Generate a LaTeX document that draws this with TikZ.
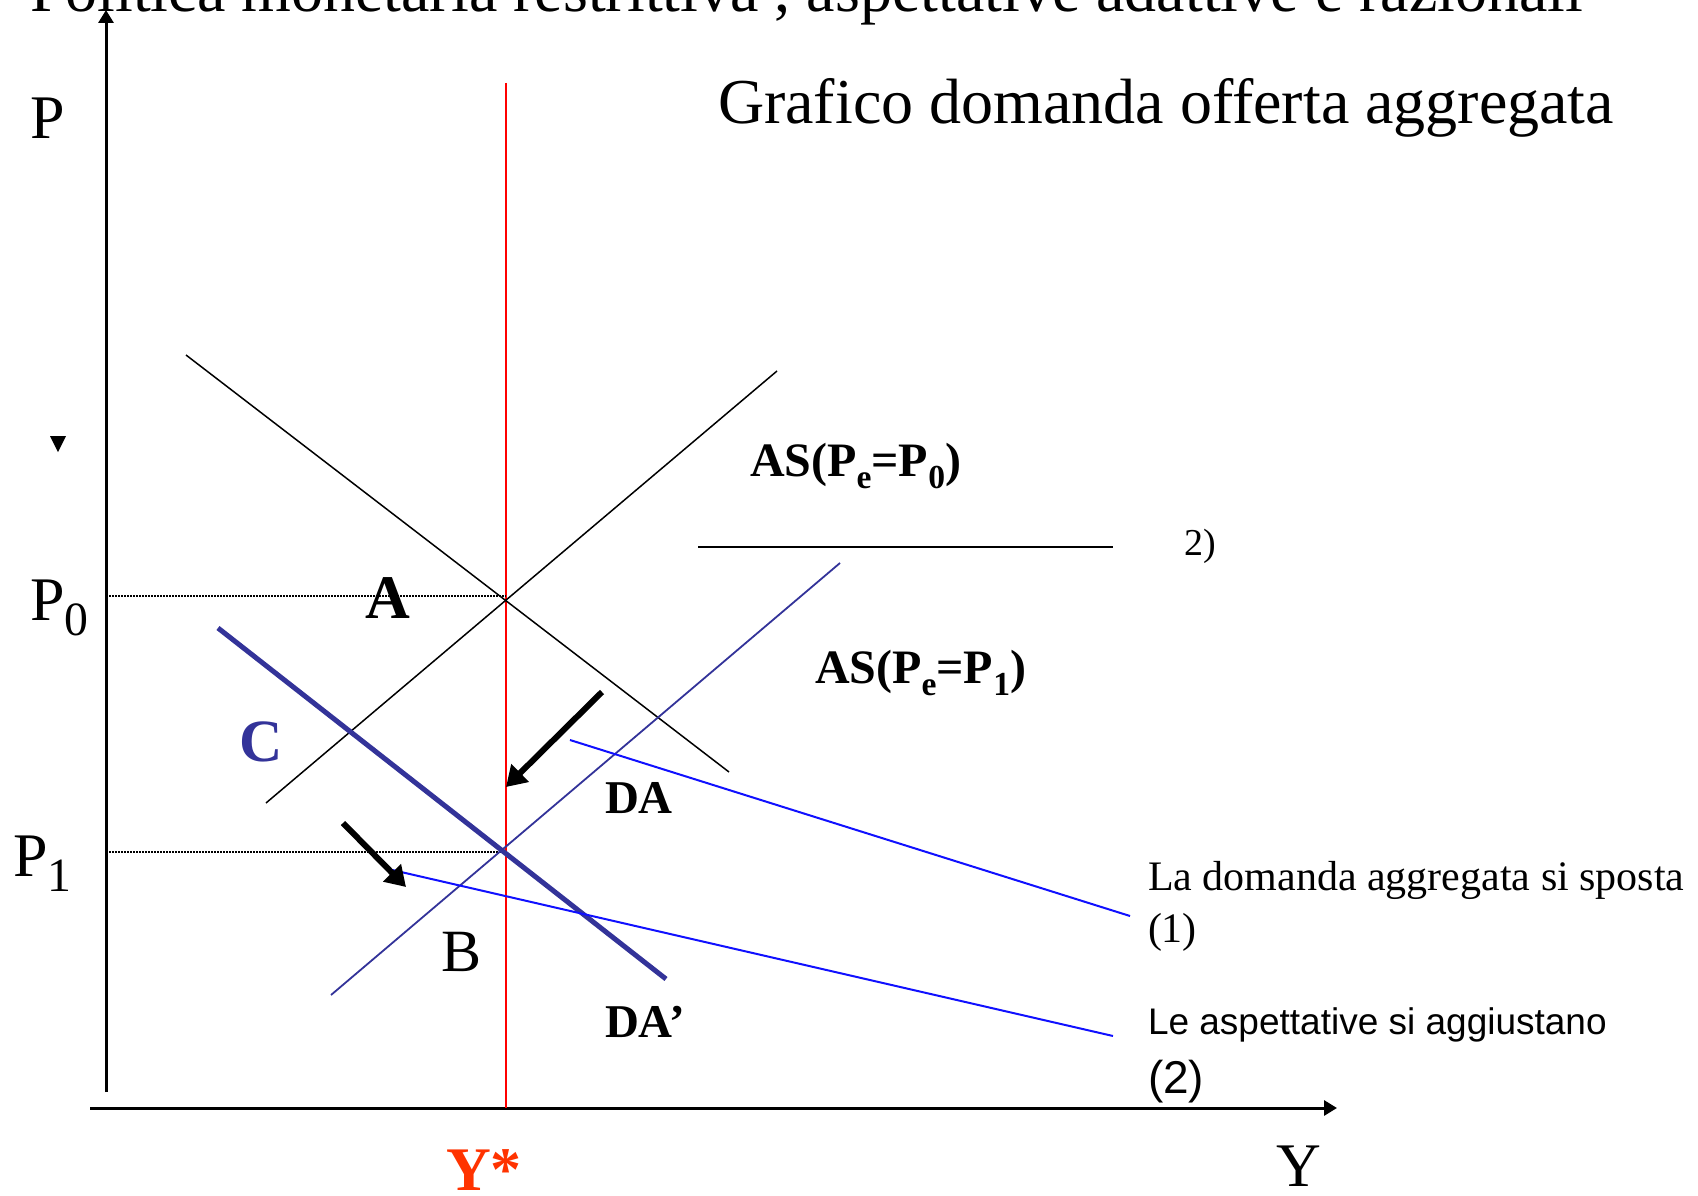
\documentclass[tikz,border=0pt]{standalone}
\usepackage{fontspec}
\setmainfont{Liberation Serif}
\newfontfamily\arialfont{Liberation Sans}
\usetikzlibrary{arrows.meta}
\definecolor{dkblue}{HTML}{333399}
\definecolor{lblue}{HTML}{1010FF}
\definecolor{ystarcol}{HTML}{FF3300}
\newcommand\lowsub[2][0.7]{\raisebox{-0.25em}{\scalebox{#1}{#2}}}
\begin{document}
\begin{tikzpicture}[x=1pt,y=-1pt,
  lbl/.style={inner sep=0pt,outer sep=0pt},
  fs/.style={font=\fontsize{#1}{#1}\selectfont},
  bfs/.style={font=\fontsize{#1}{#1}\selectfont\bfseries},
  axisline/.style={line width=3pt,-{Triangle[length=13pt,width=15pt]}},
  thincurve/.style={line width=1.5pt},
  bigarrow/.style={line width=6pt,-{Triangle[length=20pt,width=24pt]}},
  dotline/.style={line width=1.5pt,dash pattern=on 1.5pt off 1.5pt}]
\useasboundingbox (0,0) rectangle (1698,1196);
\clip (0,0) rectangle (1698,1196);
% coordinates
\coordinate (yb) at (106,1092); \coordinate (yt) at (106,10);
\coordinate (xl) at (90,1108);  \coordinate (xr) at (1337,1108);
\coordinate (rt) at (506,83);   \coordinate (rb) at (506,1108);
\coordinate (p0l) at (106,596); \coordinate (p0r) at (506,596);
\coordinate (p1l) at (106,852); \coordinate (p1r) at (506,852);
\coordinate (as0a) at (266,803); \coordinate (as0b) at (777,371);
\coordinate (da0a) at (186,355); \coordinate (da0b) at (729,772);
\coordinate (ha) at (698,547);  \coordinate (hb) at (1113,547);
\coordinate (as1a) at (331,995); \coordinate (as1b) at (840,563);
\coordinate (da1a) at (218,628); \coordinate (da1b) at (666,979);
\coordinate (b1a) at (570,740); \coordinate (b1b) at (1130,916);
\coordinate (b2a) at (388,869); \coordinate (b2b) at (1113,1036);
\coordinate (ar1a) at (602,692); \coordinate (ar1b) at (506,787);
\coordinate (ar2a) at (343,823); \coordinate (ar2b) at (406,887);
% axes
\draw[axisline] (yb) -- (yt);
\draw[axisline] (xl) -- (xr);
% red Y* line
\draw[red,line width=2pt] (rt) -- (rb);
% dotted
\draw[dotline] (p0l) -- (p0r);
\draw[dotline] (p1l) -- (p1r);
% curves
\draw[thincurve] (as0a) -- (as0b);
\draw[thincurve] (da0a) -- (da0b);
\draw[line width=2.5pt] (ha) -- (hb);
\draw[dkblue,line width=1.8pt] (as1a) -- (as1b);
\draw[dkblue,line width=5pt] (da1a) -- (da1b);
\draw[lblue,line width=2pt] (b1a) -- (b1b);
\draw[lblue,line width=2pt] (b2a) -- (b2b);
% arrows
\draw[bigarrow] (ar1a) -- (ar1b);
\draw[bigarrow] (ar2a) -- (ar2b);
% marker
\fill (50,436) -- (66,436) -- (58,452) -- cycle;
% texts
\node[lbl,fs=64,anchor=base west] (title) at (30,12) {Politica monetaria restrittiva , aspettative adattive e razionali};
\node[lbl,fs=64,anchor=base west] (graf) at (718,124) {Grafico domanda offerta aggregata};
\node[lbl,fs=62,anchor=base west] (P) at (30,139) {P};
\node[lbl,fs=62,anchor=base west] (P0) at (30,620) {P\lowsub[0.77]{0}};
\node[lbl,fs=62,anchor=base west] (P1) at (13,876) {P\lowsub[0.77]{1}};
\node[lbl,bfs=62] (A) at (388,598) {A};
\node[lbl,bfs=60,text=dkblue] (C) at (261,742) {C};
\node[lbl,fs=60] (B) at (462,952) {B};
\node[lbl,bfs=47,anchor=base west] (DA) at (605,813) {DA};
\node[lbl,bfs=47,anchor=base west] (DA1) at (605,1037) {DA’};
\node[lbl,bfs=48,anchor=base west] (AS0) at (750,476) {AS(P\lowsub{e}=P\lowsub{0})};
\node[lbl,bfs=48,anchor=base west] (AS1) at (815,683) {AS(P\lowsub{e}=P\lowsub{1})};
\node[lbl,fs=38,anchor=base west] (two) at (1184,555) {2)};
\node[lbl,fs=42,anchor=base west] (lad) at (1148,890) {La domanda aggregata si sposta};
\node[lbl,fs=42,anchor=base west] (one) at (1148,942) {(1)};
\node[lbl,fs=37,anchor=base west] (lea) at (1148,1034) {\arialfont Le aspettative si aggiustano};
\node[lbl,fs=46,anchor=base west] (twob) at (1148,1093) {\arialfont (2)};
\node[lbl,bfs=62,anchor=base west,text=ystarcol] (ystar) at (446,1190) {Y*};
\node[lbl,fs=62,anchor=base west] (Y) at (1276,1186) {Y};
\end{tikzpicture}
\end{document}
